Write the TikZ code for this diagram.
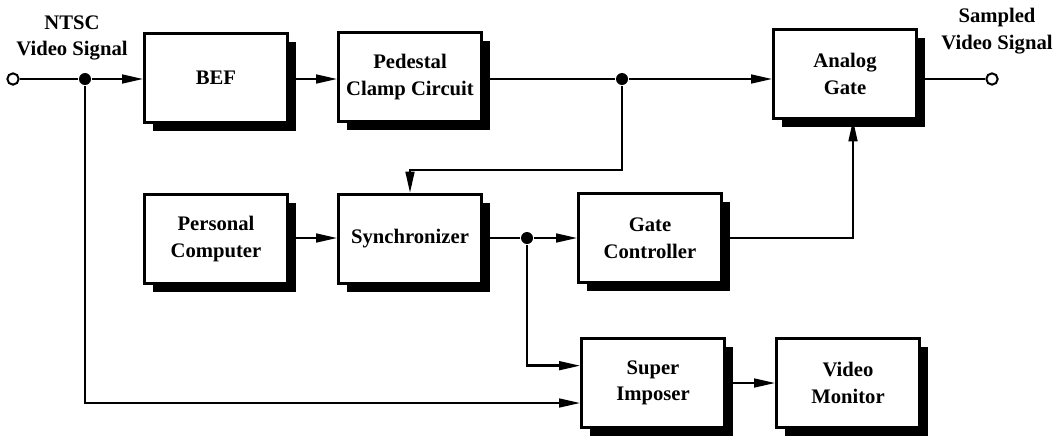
\documentclass[tikz,border=0pt]{standalone}
\usepackage{fontspec}
\setmainfont{Liberation Serif}
\usetikzlibrary{arrows.meta,shadows}

\begin{document}
\begin{tikzpicture}[>={Triangle[length=16pt,width=6.5pt]}, line width=1.9pt, x=0.75pt, y=-0.75pt,
    every node/.style={font=\bfseries\fontsize{15.5}{20}\selectfont},
    khoi/.style={draw, fill=white, align=center, minimum width=107pt, minimum height=67pt,
      drop shadow={shadow xshift=6.5pt, shadow yshift=-6.5pt, fill=black, opacity=1}},
    cham/.style={circle, fill=black, inner sep=0pt, minimum size=9pt},
    mo/.style={circle, draw, fill=white, line width=1.5pt, inner sep=0pt, minimum size=8.5pt}]
                \useasboundingbox (0,0) rectangle (1055,437);

                % Các khối
                \node[khoi] (bef) at (216,78) {BEF};
                \node[khoi] (clamp) at (410,77) {Pedestal\\Clamp Circuit};
                \node[khoi] (gate) at (845,74) {Analog\\Gate};
                \node[khoi] (pc) at (216,239) {Personal\\Computer};
                \node[khoi] (sync) at (410,239) {Synchronizer};
                \node[khoi] (ctl) at (650,238) {Gate\\Controller};
                \node[khoi] (sup) at (653,383) {Super\\Imposer};
                \node[khoi] (mon) at (848,383) {Video\\Monitor};

                % Đầu vào, đầu ra và điểm nối
                \node[mo] (vao) at (13,79) {};
                \node[mo] (ra) at (992,79) {};
                \node[cham] (j1) at (85,79) {};
                \node[cham] (j2) at (622,79) {};
                \node[cham] (j3) at (527,238) {};
                \coordinate (gap) at (0,170);

                % Nhãn
                \node[align=center] (tin) at (72,38) {NTSC\\Video Signal};
                \node[align=center] (tout) at (997,31) {Sampled\\Video Signal};

                % Đường nối
                \draw (vao) -- (j1);
                \draw[->] (j1) -- (bef.west |- j1);
                \draw[->] (bef.east |- j1) -- (clamp.west |- j1);
                \draw (clamp.east |- j2) -- (j2);
                \draw[->] (j2) -- (gate.west |- j2);
                \draw (gate.east |- ra) -- (ra);
                \draw[->] (j2) |- (sync.north |- gap) -- (sync.north);
                \draw[->] (pc.east |- j3) -- (sync.west |- j3);
                \draw (sync.east |- j3) -- (j3);
                \draw[->] (j3) -- (ctl.west |- j3);
                \draw[->] (ctl.east) -| ([xshift=6pt]gate.south);
                \draw[->] (j3) |- ([yshift=13pt]sup.west);
                \draw[->] (j1) |- ([yshift=-15pt]sup.west);
                \draw[->] (sup) -- (mon);
            \end{tikzpicture}
\end{document}
